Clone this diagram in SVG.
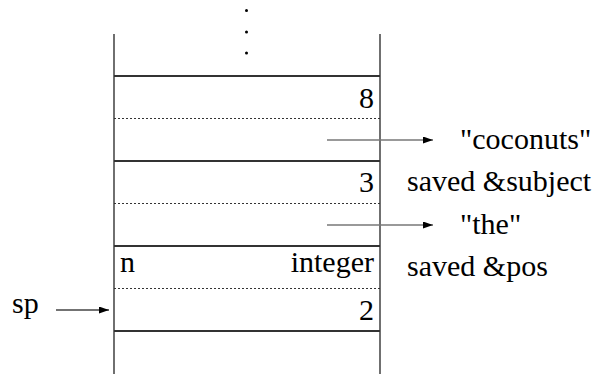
<svg xmlns="http://www.w3.org/2000/svg" width="605" height="374" viewBox="0 0 605 374">
<defs>
<marker id="ah" markerWidth="10" markerHeight="7" refX="10" refY="3.5" orient="auto" markerUnits="userSpaceOnUse">
<path d="M0,0 L10,3.5 L0,7 Z" fill="#000"/>
</marker>
</defs>
<rect width="605" height="374" fill="#fff"/>
<g id="stack" stroke="#222" stroke-width="1.3">
<line x1="114" y1="34" x2="114" y2="374"/>
<line x1="380" y1="34" x2="380" y2="374"/>
<circle cx="246.5" cy="10.5" r="1.5" fill="#000" stroke="none"/>
<circle cx="246.5" cy="32" r="1.5" fill="#000" stroke="none"/>
<circle cx="246.5" cy="53" r="1.5" fill="#000" stroke="none"/>
</g>
<g id="cell-8">
<line stroke="#333" stroke-width="2" x1="114" y1="76" x2="380" y2="76"/>
<text font-family="Liberation Serif, Times New Roman, serif" font-size="30px" text-anchor="end" x="374" y="108">8</text>
<line stroke="#333" stroke-width="1" stroke-dasharray="2,2" x1="114" y1="118.5" x2="380" y2="118.5"/>
</g>
<g id="cell-3">
<line stroke="#333" stroke-width="2" x1="114" y1="161" x2="380" y2="161"/>
<text font-family="Liberation Serif, Times New Roman, serif" font-size="30px" text-anchor="end" x="374" y="192">3</text>
<line stroke="#333" stroke-width="1" stroke-dasharray="2,2" x1="114" y1="203.5" x2="380" y2="203.5"/>
</g>
<g id="cell-integer">
<line stroke="#333" stroke-width="2" x1="114" y1="246" x2="380" y2="246"/>
<text font-family="Liberation Serif, Times New Roman, serif" font-size="30px" x="120" y="272">n</text>
<text font-family="Liberation Serif, Times New Roman, serif" font-size="30px" text-anchor="end" x="374" y="272">integer</text>
<line stroke="#333" stroke-width="1" stroke-dasharray="2,2" x1="114" y1="288.5" x2="380" y2="288.5"/>
<text font-family="Liberation Serif, Times New Roman, serif" font-size="30px" text-anchor="end" x="374" y="320">2</text>
<line stroke="#333" stroke-width="2" x1="114" y1="331" x2="380" y2="331"/>
</g>
<g id="labels">
<text font-family="Liberation Serif, Times New Roman, serif" font-size="30px" x="460" y="149">"coconuts"</text>
<text font-family="Liberation Serif, Times New Roman, serif" font-size="30px" x="407" y="191">saved &amp;subject</text>
<text font-family="Liberation Serif, Times New Roman, serif" font-size="30px" x="460" y="234">"the"</text>
<text font-family="Liberation Serif, Times New Roman, serif" font-size="30px" x="407" y="276">saved &amp;pos</text>
<text font-family="Liberation Serif, Times New Roman, serif" font-size="30px" x="12" y="313">sp</text>
</g>
<g id="connectors" fill="none" stroke-width="1.3">
<line stroke="#777" x1="327" y1="140" x2="433" y2="140" marker-end="url(#ah)"/>
<line stroke="#777" x1="327" y1="225" x2="433" y2="225" marker-end="url(#ah)"/>
<line stroke="#444" x1="56" y1="310" x2="109" y2="310" marker-end="url(#ah)"/>
</g>
</svg>
